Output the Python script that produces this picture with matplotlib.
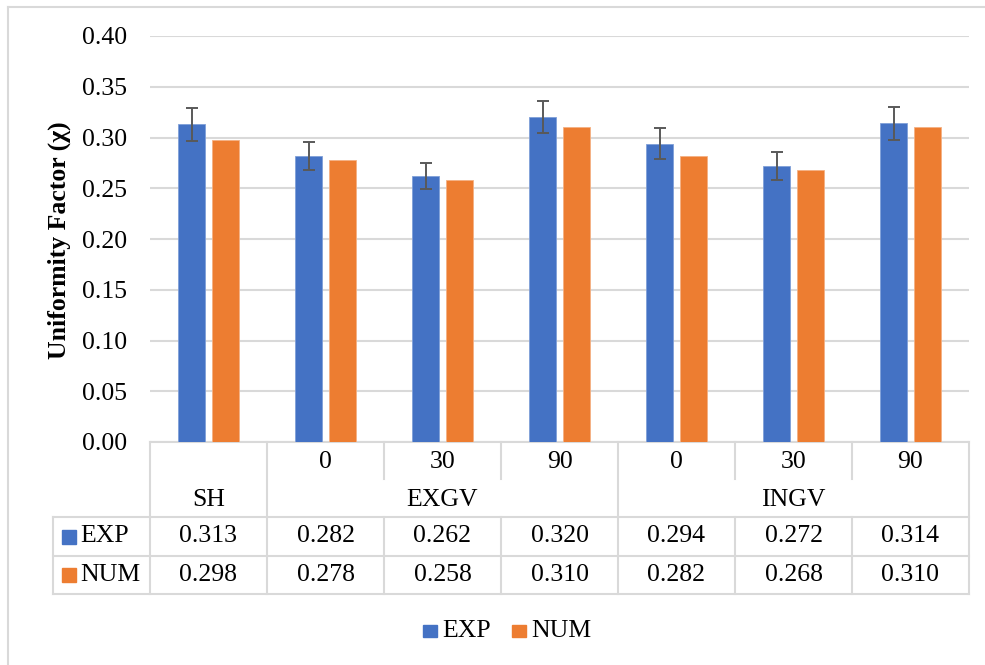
import numpy as np
import matplotlib
matplotlib.use("Agg")
import matplotlib.pyplot as plt
from matplotlib.transforms import blended_transform_factory
from matplotlib.patches import Rectangle
from matplotlib.lines import Line2D

# data
groups = ["SH", "EXGV", "INGV"]
group_sizes = [1, 3, 3]
sub_labels = ["", "0", "30", "90", "0", "30", "90"]
exp_vals = [0.313, 0.282, 0.262, 0.320, 0.294, 0.272, 0.314]
num_vals = [0.298, 0.278, 0.258, 0.310, 0.282, 0.268, 0.310]
exp_err = [0.016, 0.014, 0.013, 0.016, 0.015, 0.014, 0.016]
yticks = [0.00, 0.05, 0.10, 0.15, 0.20, 0.25, 0.30, 0.35, 0.40]

blue = "#4472C4"
orange = "#ED7D31"
grid_c = "#D9D9D9"
font = "Liberation Serif"
fs = 18.5

plt.rcParams["font.family"] = [font, "DejaVu Serif"]

W, H = 985, 665
fig = plt.figure(figsize=(W / 100, H / 100), dpi=100)

# plot area in pixels
x0, x1, ytop, ybot = 150, 969, 36, 442
ax = fig.add_axes([x0 / W, 1 - ybot / H, (x1 - x0) / W, (ybot - ytop) / H])

n = len(exp_vals)
x = np.arange(n)
bw = 0.23
off = 0.145
ax.bar(x - off, exp_vals, bw, color=blue, edgecolor="#7F9FD8", linewidth=0.6, zorder=3)
ax.bar(x + off, num_vals, bw, color=orange, edgecolor="#F4B183", linewidth=0.6, zorder=3)
ax.errorbar(x - off, exp_vals, yerr=exp_err, fmt="none", ecolor="#595959",
            elinewidth=1.4, capsize=4.5, capthick=1.4, zorder=4)

ax.set_xlim(-0.5, n - 0.5)
ax.set_ylim(0, 0.4)
ax.set_yticks(yticks)
ax.set_yticklabels([f"{v:.2f}" for v in yticks], fontsize=fs)
ax.tick_params(axis="y", length=0, pad=16.5)
ax.set_xticks([])
ax.yaxis.grid(True, color=grid_c, linewidth=1.5, zorder=0)
for s in ["top", "right", "left"]:
    ax.spines[s].set_visible(False)
ax.spines["bottom"].set_color(grid_c)
ax.spines["bottom"].set_linewidth(1.5)

fig.text(59 / W, 1 - 240 / H, "Uniformity Factor (χ)", rotation=90,
         ha="center", va="center", fontsize=fs, fontweight="bold")

# data table under the axis
tr = blended_transform_factory(ax.transData, ax.transAxes)


def yf(ypx):
    return (ybot - ypx) / (ybot - ytop)


def tline(xs, ys):
    ax.add_line(Line2D(xs, ys, transform=tr, color=grid_c, linewidth=1.5,
                       clip_on=False, zorder=1))


r_sub, r_grp, r_exp, r_num, r_end = 442, 479, 517, 556, 594
left_col = -0.5 - (150 - 53) / 117.0

# horizontal lines
for yy in [r_exp, r_num, r_end]:
    tline([left_col, n - 0.5], [yf(yy), yf(yy)])
tline([left_col, left_col], [yf(r_exp), yf(r_end)])

# vertical lines
bounds = np.cumsum([0] + group_sizes) - 0.5
for b in bounds:
    tline([b, b], [yf(r_sub), yf(r_end)])
for i in range(n - 1):
    b = i + 0.5
    if b in bounds:
        continue
    tline([b, b], [yf(r_sub), yf(r_grp)])
    tline([b, b], [yf(r_exp), yf(r_end)])

for i, lab in enumerate(sub_labels):
    ax.text(i, yf((r_sub + r_grp) / 2 + 1), lab, transform=tr, ha="center",
            va="center", fontsize=fs)
    ax.text(i, yf((r_exp + r_num) / 2), f"{exp_vals[i]:.3f}", transform=tr,
            ha="center", va="center", fontsize=fs)
    ax.text(i, yf((r_num + r_end) / 2), f"{num_vals[i]:.3f}", transform=tr,
            ha="center", va="center", fontsize=fs)

start = 0
for g, sz in zip(groups, group_sizes):
    cx = start + (sz - 1) / 2
    ax.text(cx, yf((r_grp + r_exp) / 2 + 2), g, transform=tr, ha="center",
            va="center", fontsize=fs)
    start += sz

# series keys in the table
for name, col, ya, yb in [("EXP", blue, r_exp, r_num), ("NUM", orange, r_num, r_end)]:
    cy = (ya + yb) / 2
    fig.patches.append(Rectangle((62 / W, 1 - (cy + 7) / H), 14 / W, 14 / H,
                                 transform=fig.transFigure, color=col))
    fig.text(80 / W, 1 - cy / H, name, ha="left", va="center", fontsize=fs)

# legend at the bottom
for name, col, sx in [("EXP", blue, 423), ("NUM", orange, 512)]:
    fig.patches.append(Rectangle((sx / W, 1 - 637 / H), 14 / W, 12 / H,
                                 transform=fig.transFigure, color=col))
    fig.text((sx + 19) / W, 1 - 631 / H, name, ha="left", va="center", fontsize=fs)

# chart border (top and left visible)
fig.add_artist(Line2D([8 / W, 1], [1 - 7 / H, 1 - 7 / H], transform=fig.transFigure,
                      color=grid_c, linewidth=1.5))
fig.add_artist(Line2D([8 / W, 8 / W], [0, 1 - 7 / H], transform=fig.transFigure,
                      color=grid_c, linewidth=1.5))

fig.savefig("out.png", dpi=100)
